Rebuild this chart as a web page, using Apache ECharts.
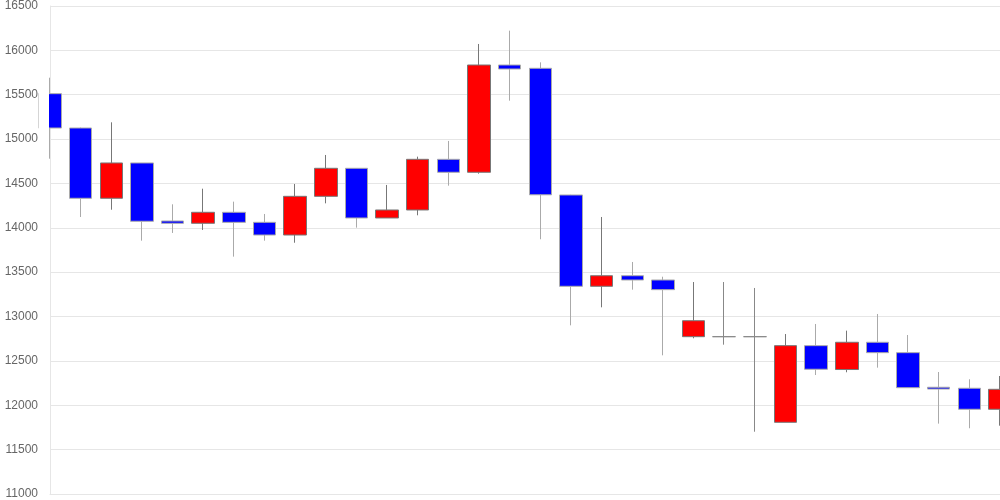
<!DOCTYPE html>
<html>
<head>
<meta charset="utf-8">
<script src="https://cdn.jsdelivr.net/npm/echarts@6/dist/echarts.min.js"></script>
<style>html,body{margin:0;padding:0;background:#fff}#c{width:1000px;height:500px}</style>
</head>
<body>
<div id="c"></div>
<script>
const categories = ['1','2','3','4','5','6','7','8','9','10','11','12','13','14','15','16','17','18','19','20','21','22','23','24','25','26','27','28','29','30','31','32'];
const openVals  = [15512,15125,14333,14731,14077,14051,14175,14062,13919,14355,14671,14111,14201,14772,14626,15835,15798,14370,13341,13460,13412,12773,12773,12773,11808,12672,12403,12710,12593,12203,12192,11955];
const closeVals = [15125,14333,14731,14074,14051,14175,14062,13919,14355,14671,14111,14201,14772,14626,15835,15790,14372,13341,13460,13412,13303,12953,12773,12773,12672,12406,12710,12593,12198,12183,11955,12180];
const lowVals   = [14779,14122,14204,13855,13942,13976,13675,13855,13832,14276,14002,14111,14141,14475,14610,15433,13871,12901,13104,13303,12563,12755,12683,11702,11808,12341,12372,12424,12198,11793,11741,11770];
const highVals  = [15692,15130,15189,14731,14265,14441,14295,14156,14494,14821,14671,14483,14802,14979,16072,16222,15865,14372,14122,13615,13449,13389,13389,13322,12803,12916,12841,13029,12792,12375,12293,12330];
const yTicks = { min: 11000, max: 16500, interval: 500 };

const data = categories.map((c, i) => [openVals[i], closeVals[i], lowVals[i], highVals[i]]);

const chart = echarts.init(document.getElementById('c'));
chart.setOption({
  animation: false,
  backgroundColor: '#fff',
  grid: { left: 50, right: 0, top: 6, bottom: 6, containLabel: false },
  xAxis: {
    type: 'category',
    data: categories,
    boundaryGap: false,
    axisLabel: { show: false },
    axisTick: { show: false },
    axisLine: { show: true, lineStyle: { color: '#e6e6e6' } },
    splitLine: { show: false }
  },
  yAxis: {
    type: 'value',
    min: yTicks.min, max: yTicks.max, interval: yTicks.interval,
    axisLabel: { color: '#666', fontSize: 12, fontFamily: 'Liberation Sans, Arial, sans-serif', margin: 12,
      formatter: function (v) { return String(v); } },
    axisTick: { show: false },
    axisLine: { show: true, lineStyle: { color: '#e6e6e6' } },
    splitLine: { show: true, lineStyle: { color: '#e6e6e6' } }
  },
  graphic: [{
    type: 'rect',
    z: 100,
    silent: true,
    shape: { x: 38.5, y: 0, width: 10.5, height: 500 },
    style: { fill: '#fff' }
  }],
  series: [{
    type: 'candlestick',
    data: data,
    barWidth: 23,
    clip: true,
    itemStyle: {
      color: '#ff0000',
      color0: '#0000ff',
      borderColor: '#777777',
      borderColor0: '#aaaaaa',
      borderColorDoji: '#888888',
      borderWidth: 1
    }
  }]
});
</script>
</body>
</html>
